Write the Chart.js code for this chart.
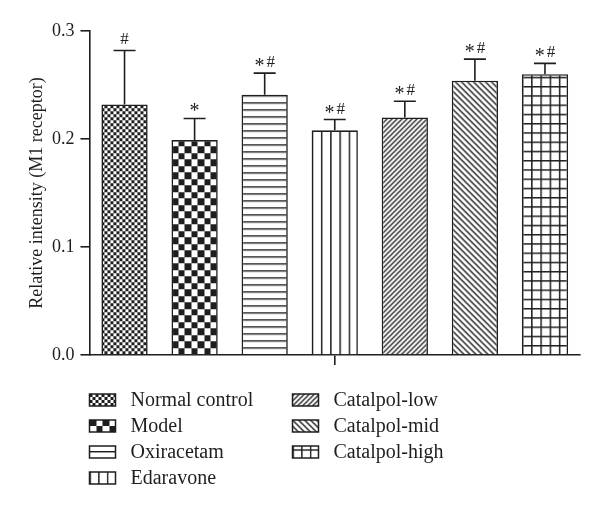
<!DOCTYPE html>
<html>
<head>
<meta charset="utf-8">
<script src="https://cdn.jsdelivr.net/npm/chart.js@4.4.0/dist/chart.umd.min.js"></script>
<style>
  body { margin: 0; background: #fff; }
</style>
</head>
<body>
<canvas id="myChart" width="600" height="511"></canvas>
<script>
// data
var groups = ['Normal control', 'Model', 'Oxiracetam', 'Edaravone', 'Catalpol-low', 'Catalpol-mid', 'Catalpol-high'];
var means = [0.232, 0.199, 0.241, 0.208, 0.220, 0.254, 0.260];
var errors = [0.050, 0.020, 0.020, 0.010, 0.015, 0.020, 0.010];
var marks = ['#', '*', '*#', '*#', '*#', '*#', '*#'];
var yTicks = [0.0, 0.1, 0.2, 0.3];

var ink = '#1e1e1e';
var serif = '"Liberation Serif", "DejaVu Serif", serif';

var ctx = document.getElementById('myChart').getContext('2d');

function tile(w, h, draw) {
    var c = document.createElement('canvas');
    c.width = w; c.height = h;
    var g = c.getContext('2d');
    g.fillStyle = '#fff';
    g.fillRect(0, 0, w, h);
    g.fillStyle = ink;
    g.strokeStyle = ink;
    draw(g, w, h);
    return ctx.createPattern(c, 'repeat');
}

// one fill pattern per group, "scaled" ones get stretched to fit 5 cells in a bar
var patterns = [
    tile(6, 6, function (g) { g.fillRect(0, 0, 3, 3); g.fillRect(3, 3, 3, 3); }),
    tile(13, 13, function (g) { g.fillRect(0, 0, 7, 7); g.fillRect(7, 7, 6, 6); }),
    tile(4, 7, function (g) { g.fillRect(0, 0, 4, 1.4); }),
    tile(10, 4, function (g) { g.fillRect(0, 0, 1.6, 4); }),
    tile(5, 5, function (g) {
        g.lineWidth = 1.3;
        g.beginPath();
        g.moveTo(-1, 6); g.lineTo(6, -1);
        g.moveTo(-1, 1); g.lineTo(1, -1);
        g.moveTo(4, 6); g.lineTo(6, 4);
        g.stroke();
    }),
    tile(6, 6, function (g) {
        g.lineWidth = 1.4;
        g.beginPath();
        g.moveTo(-1, -1); g.lineTo(7, 7);
        g.moveTo(5, -1); g.lineTo(7, 1);
        g.moveTo(-1, 5); g.lineTo(1, 7);
        g.stroke();
    }),
    tile(10, 10, function (g) { g.fillRect(0, 0, 10, 1.6); g.fillRect(0, 0, 1.6, 10); })
];
var scaled = [false, false, false, true, false, false, true];

function placePattern(i, left, bottom, width) {
    var s = scaled[i] ? width / 50 : 1;
    patterns[i].setTransform(new DOMMatrix([s, 0, 0, s, left, bottom]));
}

// "*" sits lower than in Times, roughly mid-height of the "#"
function drawMark(c, text, x, y) {
    var parts = text.split('');
    var w = 0;
    parts.forEach(function (ch, k) {
        c.font = (ch === '*' ? '20px ' : '17px ') + serif;
        w += c.measureText(ch).width + (k ? 2 : 0);
    });
    var cx = x - w / 2;
    parts.forEach(function (ch) {
        c.font = (ch === '*' ? '20px ' : '17px ') + serif;
        var cw = c.measureText(ch).width;
        c.fillText(ch, cx, ch === '*' ? y + 5 : y);
        cx += cw + 2;
    });
}

var extras = {
    id: 'extras',
    beforeDatasetsDraw: function (chart) {
        chart.getDatasetMeta(0).data.forEach(function (bar, i) {
            placePattern(i, bar.x - bar.width / 2, bar.base, bar.width);
        });
    },
    afterDatasetsDraw: function (chart) {
        var c = chart.ctx;
        var y = chart.scales.y;
        c.save();
        c.strokeStyle = ink;
        c.fillStyle = ink;
        c.lineWidth = 1.6;
        c.textAlign = 'left';
        c.textBaseline = 'alphabetic';
        chart.getDatasetMeta(0).data.forEach(function (bar, i) {
            var top = y.getPixelForValue(means[i] + errors[i]);
            c.beginPath();
            c.moveTo(bar.x, bar.y);
            c.lineTo(bar.x, top);
            c.moveTo(bar.x - 11, top);
            c.lineTo(bar.x + 11, top);
            c.stroke();
            drawMark(c, marks[i], bar.x, top - 6);
        });
        c.restore();
    },
    afterDraw: function (chart) {
        // legend in two columns under the plot
        var c = chart.ctx;
        var area = chart.chartArea;
        c.save();
        c.font = '20px ' + serif;
        c.textBaseline = 'middle';
        c.textAlign = 'left';
        groups.forEach(function (name, i) {
            var col = i < 4 ? 0 : 1;
            var row = i < 4 ? i : i - 4;
            var x = area.left + col * 203;
            var yy = area.bottom + 45 + row * 26;
            placePattern(i, x, yy + 6, 26 * 50 / 30);
            c.fillStyle = patterns[i];
            c.fillRect(x, yy - 6, 26, 12);
            c.strokeStyle = ink;
            c.lineWidth = 1.5;
            c.strokeRect(x, yy - 6, 26, 12);
            c.fillStyle = ink;
            c.fillText(name, x + 41, yy + 1);
        });
        c.restore();
    }
};

var chart = new Chart(ctx, {
    type: 'bar',
    data: {
        labels: groups,
        datasets: [{
            data: means,
            backgroundColor: patterns,
            borderColor: ink,
            borderWidth: 1.6,
            barPercentage: 0.66,
            categoryPercentage: 1
        }]
    },
    options: {
        responsive: false,
        animation: false,
        layout: { padding: { top: 31, left: 24, right: 20, bottom: 146 } },
        plugins: {
            legend: { display: false },
            tooltip: { enabled: false }
        },
        scales: {
            x: {
                grid: {
                    offset: false,
                    drawOnChartArea: false,
                    tickLength: 10,
                    lineWidth: 1.6,
                    color: function (c) { return c.index === 3 ? ink : 'rgba(0,0,0,0)'; }
                },
                border: { color: ink, width: 1.6 },
                ticks: { display: false }
            },
            y: {
                min: 0,
                max: 0.3,
                afterBuildTicks: function (axis) {
                    axis.ticks = yTicks.map(function (v) { return { value: v }; });
                },
                grid: { drawOnChartArea: false, tickLength: 9, lineWidth: 1.6, color: ink },
                border: { color: ink, width: 1.6 },
                ticks: {
                    padding: 6,
                    color: ink,
                    font: { family: serif, size: 18 },
                    callback: function (v) { return Number(v).toFixed(1); }
                },
                title: {
                    display: true,
                    text: 'Relative intensity (M1 receptor)',
                    color: ink,
                    font: { family: serif, size: 18, lineHeight: 1 },
                    padding: { top: 4, bottom: 0 }
                }
            }
        }
    },
    plugins: [extras]
});
</script>
</body>
</html>
